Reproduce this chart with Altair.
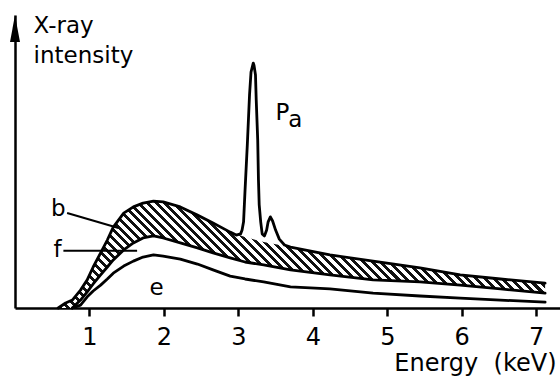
import altair as alt
import pandas as pd

# ---- data (energy in keV, intensity in arbitrary units, axis top = 100)
energy = [0.58, 0.68, 0.77, 0.88, 0.97, 1.05, 1.15, 1.24, 1.32, 1.46, 1.59, 1.72, 1.86, 1.99,
          2.22, 2.45, 2.66, 2.89, 3.09, 3.34, 3.70, 4.23, 4.81, 5.44, 5.98, 6.52, 7.12]
curve_b = [0.0, 1.7, 2.7, 6.1, 9.6, 14.0, 18.8, 23.2, 27.6, 32.4, 34.5, 35.8, 36.5, 36.2,
           34.5, 31.7, 29.0, 25.9, 24.2, 22.5, 20.8, 18.1, 16.0, 13.7, 11.3, 9.9, 8.5]
curve_f = [0.0, 0.0, 0.0, 2.7, 5.5, 8.2, 11.3, 14.0, 16.4, 19.8, 22.2, 23.9, 24.6, 23.9,
           22.2, 20.5, 18.8, 17.1, 15.7, 14.7, 13.0, 11.3, 9.6, 8.9, 7.8, 6.5, 5.1]
curve_e = [0.0, 0.0, 0.0, 1.0, 3.8, 5.8, 7.8, 9.9, 11.9, 14.3, 16.0, 17.4, 18.1, 17.7,
           16.7, 15.0, 13.0, 10.9, 9.9, 8.9, 7.2, 6.5, 5.1, 4.1, 3.4, 2.7, 2.0]

# characteristic lines (P) riding on curve b
peak_energy = [2.97, 3.03, 3.05, 3.07, 3.09, 3.12, 3.15, 3.17, 3.19, 3.20, 3.21, 3.23, 3.24,
               3.26, 3.27, 3.28, 3.30, 3.32, 3.35, 3.38, 3.40, 3.43, 3.46, 3.50, 3.55, 3.62]
peak_intensity = [24.9, 25.3, 26.6, 29.4, 40.3, 55.6, 72.7, 80.5, 82.6, 83.6, 82.9, 79.5, 71.0,
                  57.3, 43.7, 35.2, 29.4, 25.3, 24.6, 26.6, 29.4, 31.1, 29.7, 26.6, 23.5, 21.5]

tick_values = [1, 2, 3, 4, 5, 6, 7]

label_center_text = ["b", "f", "e"]
label_center_x = [0.58, 0.57, 1.90]
label_center_y = [31.4, 17.4, 4.4]

label_left_text = ["P", "a", "X-ray", "intensity"]
label_left_x = [3.50, 3.67, 0.25, 0.25]
label_left_y = [64.2, 61.8, 93.9, 83.6]

leader_x = [0.70, 0.65]
leader_x2 = [1.39, 1.64]
leader_y = [32.4, 19.5]
leader_y2 = [27.3, 19.5]

arrow_x = [0.0]
arrow_y = [95.4]

# ---- tables
band = pd.DataFrame({"energy": energy, "b": curve_b, "f": curve_f})

rows = []
for x, y in zip(energy, curve_b):
    if x < peak_energy[0]:
        rows.append(("b", x, y))
for x, y in zip(peak_energy, peak_intensity):
    rows.append(("b", x, y))
for x, y in zip(energy, curve_b):
    if x > peak_energy[-1]:
        rows.append(("b", x, y))


def trimmed(name, ys):
    first = next(i for i, v in enumerate(ys) if v > 0)
    start = max(first - 1, 0)
    return [(name, energy[i], ys[i]) for i in range(start, len(ys))]


rows += trimmed("f", curve_f)
rows += trimmed("e", curve_e)
lines = pd.DataFrame(rows, columns=["series", "energy", "intensity"])
lines["order"] = range(len(lines))

centers = pd.DataFrame({"t": label_center_text, "x": label_center_x, "y": label_center_y})
lefts = pd.DataFrame({"t": label_left_text, "x": label_left_x, "y": label_left_y})
leaders = pd.DataFrame({"x": leader_x, "x2": leader_x2, "y": leader_y, "y2": leader_y2})
arrow = pd.DataFrame({"x": arrow_x, "y": arrow_y})

# ---- styles
FONT = "DejaVu Sans"
xscale = alt.Scale(domain=[0, 7.32], nice=False, zero=False)
yscale = alt.Scale(domain=[0, 100], nice=False, zero=False)

n = 68
p = 1.0 / n
stops = []
for i in range(n):
    s = round(i * p, 6)
    m = round(i * p + 0.46 * p, 6)
    e = round(min((i + 1) * p, 1.0), 6)
    stops += [
        alt.GradientStop(offset=s, color="#111111"),
        alt.GradientStop(offset=m, color="#111111"),
        alt.GradientStop(offset=m, color="white"),
        alt.GradientStop(offset=e, color="white"),
    ]
hatch = alt.LinearGradient(gradient="linear", stops=stops, x1=0, y1=1, x2=1.1635, y2=0.7444)

xaxis = alt.Axis(
    values=tick_values, tickSize=8, tickWidth=2.5, tickColor="black",
    domainWidth=2.5, domainColor="black", grid=False,
    labelFont=FONT, labelFontSize=24, labelColor="black", labelPadding=9, labelFlush=False,
    title="Energy\u00a0\u00a0(keV)", titleFont=FONT, titleFontSize=24, titleFontWeight="normal",
    titleColor="black", titleAnchor="end", titleAlign="right", titleBaseline="alphabetic",
    titleX=541, titleY=62,
)
yaxis = alt.Axis(ticks=False, labels=False, title=None, grid=False,
                 domainWidth=2.5, domainColor="black")


def X(field):
    return alt.X(field, scale=xscale, axis=xaxis)


def Y(field):
    return alt.Y(field, scale=yscale, axis=yaxis)


area = alt.Chart(band).mark_area(fill=hatch, strokeWidth=0).encode(
    x=X("energy:Q"), y=Y("b:Q"), y2="f:Q",
)

line = alt.Chart(lines).mark_line(color="black", strokeWidth=2.8, strokeJoin="round",
                                   strokeCap="round").encode(
    x=X("energy:Q"), y=Y("intensity:Q"), detail="series:N", order="order:Q",
)

leader = alt.Chart(leaders).mark_rule(color="black", strokeWidth=2).encode(
    x=X("x:Q"), x2="x2:Q", y=Y("y:Q"), y2="y2:Q",
)

txt_c = alt.Chart(centers).mark_text(font=FONT, fontSize=23, align="center",
                                     baseline="alphabetic", color="black").encode(
    x=X("x:Q"), y=Y("y:Q"), text="t:N",
)
txt_l = alt.Chart(lefts).mark_text(font=FONT, fontSize=23, align="left",
                                   baseline="alphabetic", color="black").encode(
    x=X("x:Q"), y=Y("y:Q"), text="t:N",
)

head = alt.Chart(arrow).mark_point(shape="M0,-1L0.37,1L-0.37,1Z", size=729, filled=True,
                                   color="black", opacity=1, strokeWidth=0).encode(
    x=X("x:Q"), y=Y("y:Q"),
)

chart = alt.layer(area, line, leader, txt_c, txt_l, head).properties(
    width=545, height=293,
    autosize=alt.AutoSizeParams(type="none"),
    padding={"left": 15, "top": 15, "right": 0, "bottom": 70},
    background="white",
).configure_view(stroke=None)

chart.save("out.html", embed_options={"renderer": "svg", "actions": False})
